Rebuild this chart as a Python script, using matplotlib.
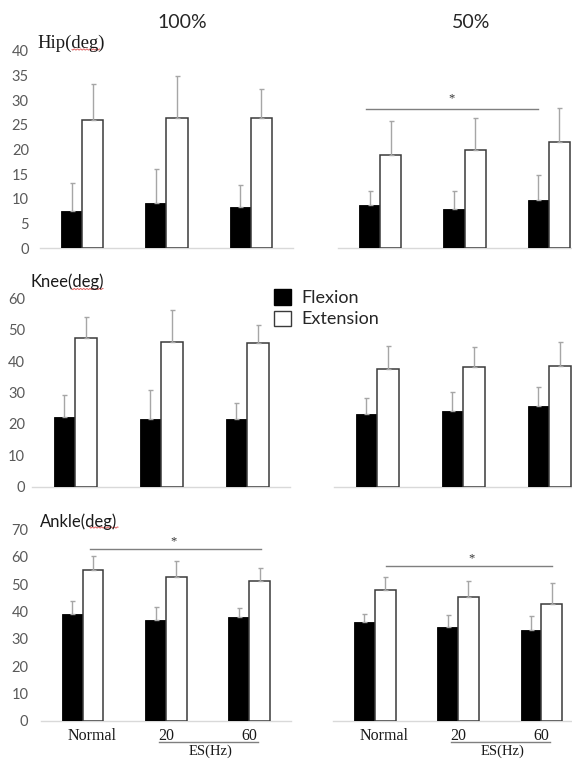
import matplotlib
matplotlib.use("Agg")
import matplotlib.pyplot as plt
from matplotlib.patches import Patch
from matplotlib.lines import Line2D
from matplotlib.transforms import ScaledTranslation
import numpy as np

# ---- data -------------------------------------------------------------
conditions = ["Normal", "20", "60"]
intensities = ["100%", "50%"]

hip_flex_100 = [7.5, 9.2, 8.4]
hip_flex_100_sd = [5.6, 6.8, 4.4]
hip_ext_100 = [26.0, 26.4, 26.4]
hip_ext_100_sd = [7.2, 8.5, 5.8]
hip_flex_50 = [8.7, 8.0, 9.7]
hip_flex_50_sd = [2.8, 3.5, 5.2]
hip_ext_50 = [18.9, 19.9, 21.6]
hip_ext_50_sd = [6.8, 6.4, 6.9]

knee_flex_100 = [22.2, 21.7, 21.7]
knee_flex_100_sd = [6.9, 9.2, 4.8]
knee_ext_100 = [47.4, 46.1, 45.9]
knee_ext_100_sd = [6.6, 10.2, 5.6]
knee_flex_50 = [23.1, 24.1, 25.6]
knee_flex_50_sd = [5.1, 6.0, 6.0]
knee_ext_50 = [37.6, 38.0, 38.4]
knee_ext_50_sd = [7.2, 6.6, 7.8]

ankle_flex_100 = [39.1, 36.9, 38.1]
ankle_flex_100_sd = [4.7, 4.6, 3.0]
ankle_ext_100 = [55.1, 52.6, 51.1]
ankle_ext_100_sd = [5.2, 6.0, 4.8]
ankle_flex_50 = [36.2, 34.2, 33.2]
ankle_flex_50_sd = [2.9, 4.5, 5.1]
ankle_ext_50 = [47.7, 45.4, 42.6]
ankle_ext_50_sd = [5.0, 5.7, 7.7]

hip_ticks = [0, 5, 10, 15, 20, 25, 30, 35, 40]
knee_ticks = [0, 10, 20, 30, 40, 50, 60]
ankle_ticks = [0, 10, 20, 30, 40, 50, 60, 70]

# significance brackets: (x start, x end, height)
hip_sig_50 = (-0.17, 1.87, 28.2)
ankle_sig_100 = (0.09, 2.14, 62.7)
ankle_sig_50 = (0.13, 2.13, 56.6)

# ---- styling ----------------------------------------------------------
SANS = ["Lato", "DejaVu Sans"]
SERIF = ["Liberation Serif", "DejaVu Serif"]
TICK_COLOR = "#595959"
ERR_COLOR = "#a6a6a6"
BASE_COLOR = "#d9d9d9"
BAR_W = 0.25

W, H = 572, 762
fig = plt.figure(figsize=(W / 100, H / 100), dpi=100)


def px_axes(left, bottom_px, width, top_px):
    """Axes from pixel edges (y measured from top)."""
    return fig.add_axes([left / W, 1 - bottom_px / H, width / W,
                         (bottom_px - top_px) / H])


def draw_panel(ax, flex, flex_sd, ext, ext_sd, ymax, ticks, show_y, pad):
    x = np.arange(len(conditions))
    err_kw = dict(ecolor=ERR_COLOR, elinewidth=1.0, capsize=1.8, capthick=1.0)
    ax.bar(x - BAR_W / 2, flex, BAR_W, color="black", edgecolor="black",
           linewidth=0.6, yerr=[np.zeros(3), flex_sd], error_kw=err_kw,
           zorder=3)
    ax.bar(x + BAR_W / 2, ext, BAR_W, color="white", edgecolor="#3a3a3a",
           linewidth=1.1, yerr=[np.zeros(3), ext_sd], error_kw=err_kw,
           zorder=3)
    ax.set_xlim(-0.5, 2.5)
    ax.set_ylim(0, ymax)
    for s in ["top", "right", "left"]:
        ax.spines[s].set_visible(False)
    ax.spines["bottom"].set_color(BASE_COLOR)
    ax.spines["bottom"].set_linewidth(1.0)
    ax.set_xticks([])
    if show_y:
        ax.set_yticks(ticks)
        ax.tick_params(axis="y", length=0, pad=pad, labelsize=10.5,
                       labelcolor=TICK_COLOR)
        for lbl in ax.get_yticklabels():
            lbl.set_family(SANS)
    else:
        ax.set_yticks([])
    ax.patch.set_alpha(0)


def sig(ax, spec, star_x, star_y):
    x0, x1, y = spec
    ax.plot([x0, x1], [y, y], color="#7f7f7f", lw=1.0, clip_on=False,
            zorder=4)
    ax.text(star_x, star_y, "*", ha="center", va="center", fontsize=9,
            family=SERIF, color="#333333", clip_on=False)


# ---- hip row ----------------------------------------------------------
ax_h1 = px_axes(40, 248, 253, 51)
ax_h2 = px_axes(338, 248, 253, 51)
draw_panel(ax_h1, hip_flex_100, hip_flex_100_sd, hip_ext_100, hip_ext_100_sd,
           40, hip_ticks, True, 8)
draw_panel(ax_h2, hip_flex_50, hip_flex_50_sd, hip_ext_50, hip_ext_50_sd,
           40, hip_ticks, False, 8)
sig(ax_h2, hip_sig_50, 0.85, 30.3)

# ---- knee row ---------------------------------------------------------
ax_k1 = px_axes(32, 486.7, 258, 298.3)
ax_k2 = px_axes(334, 486.7, 258, 298.3)
draw_panel(ax_k1, knee_flex_100, knee_flex_100_sd, knee_ext_100,
           knee_ext_100_sd, 60, knee_ticks, True, 5)
draw_panel(ax_k2, knee_flex_50, knee_flex_50_sd, knee_ext_50, knee_ext_50_sd,
           60, knee_ticks, False, 5)

# ---- ankle row --------------------------------------------------------
ax_a1 = px_axes(41, 721, 250, 529.3)
ax_a2 = px_axes(333, 721, 250, 529.3)
draw_panel(ax_a1, ankle_flex_100, ankle_flex_100_sd, ankle_ext_100,
           ankle_ext_100_sd, 70, ankle_ticks, True, 9)
draw_panel(ax_a2, ankle_flex_50, ankle_flex_50_sd, ankle_ext_50,
           ankle_ext_50_sd, 70, ankle_ticks, False, 9)
sig(ax_a1, ankle_sig_100, 1.09, 65.5)
sig(ax_a2, ankle_sig_50, 1.16, 59.5)

# category labels under the ankle row
for ax in (ax_a1, ax_a2):
    ax.set_xticks(np.arange(len(conditions)))
    ax.set_xticklabels(conditions, family=SERIF, fontsize=11.5,
                       color="#1a1a1a")
    ax.tick_params(axis="x", length=0, pad=5)
    first = ax.get_xticklabels()[0]
    first.set_transform(first.get_transform() +
                        ScaledTranslation(7 / 72, 0, fig.dpi_scale_trans))
    tr = ax.get_xaxis_transform()
    ax.add_line(Line2D([0.92, 2.1], [-0.11, -0.11], transform=tr,
                       color="#7f7f7f", lw=1.0, clip_on=False))
    ax.text(1.53, -0.157, "ES(Hz)", transform=tr, ha="center", va="center",
            family=SERIF, fontsize=10.5, color="#1a1a1a", clip_on=False)

# ---- column titles ------------------------------------------------------
fig.text(182 / W, 1 - 23 / H, intensities[0], ha="center", va="center",
         family=SANS, fontsize=14, color="#262626")
fig.text(471 / W, 1 - 23 / H, intensities[1], ha="center", va="center",
         family=SANS, fontsize=14, color="#262626")

# ---- joint labels -------------------------------------------------------
fig.text(37 / W, 1 - 43 / H, "Hip(deg)", ha="left", va="center",
         family=SERIF, fontsize=13.5, color="#1a1a1a")
fig.text(30 / W, 1 - 282 / H, "Knee(deg)", ha="left", va="center",
         family=SANS, fontsize=12, color="#1a1a1a")
fig.text(40 / W, 1 - 522 / H, "Ankle(deg)", ha="left", va="center",
         family=SANS, fontsize=12, color="#1a1a1a")

# spell-check squiggles under "deg"
for x0, x1, y in [(72, 100, 49.5), (72, 103, 289), (90, 118, 527.5)]:
    xs = np.linspace(x0, x1, 40)
    ys = y + 0.6 * np.sin((xs - x0) * 2.0)
    fig.add_artist(Line2D(xs / W, 1 - ys / H, color="#e06060", lw=0.7,
                          transform=fig.transFigure))

# ---- legend -------------------------------------------------------------
handles = [Patch(facecolor="black", edgecolor="black", label="Flexion"),
           Patch(facecolor="white", edgecolor="#3a3a3a", linewidth=1.0,
                 label="Extension")]
leg = fig.legend(handles=handles, loc="upper left",
                 bbox_to_anchor=(274 / W, 1 - 289 / H), frameon=False,
                 prop={"family": SANS, "size": 13}, handlelength=0.95,
                 handleheight=0.95, handletextpad=0.55, labelspacing=0.25,
                 borderpad=0, borderaxespad=0)
for t in leg.get_texts():
    t.set_color("#262626")

fig.savefig("out.png", dpi=100)
